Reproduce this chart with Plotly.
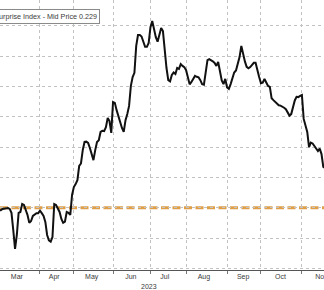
import pandas as pd
import plotly.graph_objects as go

# Bloomberg ECO US Surprise Index, daily (trading days from 2023-03-01)
start_date = "2023-03-01"
holidays = ["2023-04-07", "2023-05-29", "2023-06-19", "2023-07-04", "2023-09-04"]
values = [
    -0.008, -0.008, -0.004, -0.003, -0.001, -0.001, -0.004, -0.017, -0.074, -0.136,
    -0.090, -0.017, -0.014, 0.012, 0.009, -0.008, -0.024, -0.050, -0.044, -0.027,
    -0.021, -0.018, -0.018, -0.010, -0.018, -0.027, -0.047, -0.090, -0.108, -0.112,
    -0.097, 0.012, 0.009, -0.001, -0.014, -0.037, -0.050, -0.046, -0.014, -0.017,
    -0.024, 0.042, 0.068, 0.078, 0.091, 0.138, 0.146, 0.190, 0.217, 0.218,
    0.214, 0.197, 0.174, 0.157, 0.190, 0.217, 0.223, 0.250, 0.254, 0.253,
    0.266, 0.296, 0.286, 0.247, 0.349, 0.346, 0.322, 0.299, 0.279, 0.263,
    0.250, 0.289, 0.309, 0.336, 0.402, 0.431, 0.445, 0.534, 0.570, 0.570,
    0.565, 0.547, 0.531, 0.531, 0.544, 0.596, 0.616, 0.590, 0.563, 0.548,
    0.567, 0.593, 0.583, 0.520, 0.461, 0.421, 0.417, 0.438, 0.446, 0.441,
    0.461, 0.458, 0.474, 0.468, 0.464, 0.454, 0.428, 0.407, 0.415, 0.426,
    0.435, 0.432, 0.430, 0.421, 0.408, 0.406, 0.441, 0.487, 0.490, 0.487,
    0.483, 0.478, 0.468, 0.481, 0.444, 0.420, 0.408, 0.425, 0.397, 0.392,
    0.408, 0.431, 0.446, 0.453, 0.471, 0.497, 0.534, 0.507, 0.483, 0.465,
    0.460, 0.464, 0.471, 0.478, 0.478, 0.451, 0.431, 0.411, 0.413, 0.425,
    0.412, 0.402, 0.399, 0.361, 0.355, 0.349, 0.344, 0.338, 0.337, 0.334,
    0.330, 0.325, 0.316, 0.304, 0.309, 0.336, 0.354, 0.366, 0.365, 0.369,
    0.372, 0.293, 0.270, 0.250, 0.200, 0.215, 0.212, 0.204, 0.199, 0.187,
    0.195, 0.177, 0.135, 0.124,
]
reference_level = 0.0
legend_text = "Bloomberg ECO US Surprise Index - Mid Price 0.229"
year_label = "2023"
month_labels = ["Mar", "Apr", "May", "Jun", "Jul", "Aug", "Sep", "Oct", "Nov"]
month_label_dates = ["2023-03-15", "2023-04-14", "2023-05-15", "2023-06-15", "2023-07-14",
                     "2023-08-15", "2023-09-15", "2023-10-16", "2023-11-16"]

dates = pd.bdate_range(start_date, periods=len(values), freq="C", holidays=holidays)

FONT = "Liberation Sans, Arial, sans-serif"
GRID = "#c2c2c2"
TEXT = "#3a3a3a"

fig = go.Figure()
fig.add_trace(go.Scatter(
    x=dates, y=values, mode="lines",
    line=dict(color="#111111", width=2),
    hoverinfo="skip", showlegend=False,
))

fig.add_shape(
    type="line", xref="paper", yref="y", x0=0, x1=1,
    y0=reference_level, y1=reference_level,
    line=dict(color="#DE9F48", width=3, dash="8px,3.5px"),
    layer="between",
)

fig.add_annotation(
    xref="paper", yref="paper", x=100 / 324, y=1 - 16.5 / 270,
    xanchor="right", yanchor="middle", showarrow=False,
    text=legend_text, font=dict(family=FONT, size=7.2, color=TEXT),
    bordercolor="#8a8a8a", borderwidth=1, borderpad=2, bgcolor="white",
)
fig.add_annotation(
    xref="x", yref="paper", x="2023-06-30", y=-0.062,
    xanchor="center", yanchor="middle", showarrow=False,
    text=year_label, font=dict(family=FONT, size=7, color=TEXT),
)

fig.update_layout(
    template="none",
    width=324, height=290,
    margin=dict(l=0, r=0, t=0, b=20, pad=0),
    paper_bgcolor="white", plot_bgcolor="white",
    showlegend=False,
    xaxis=dict(
        type="date",
        range=["2023-03-01 13:18", "2023-11-17 09:36"],
        rangebreaks=[dict(bounds=["sat", "mon"]), dict(values=holidays)],
        tickmode="array", tickvals=month_label_dates, ticktext=month_labels,
        ticks="", showgrid=False, ticklabeloverflow="allow",
        minor=dict(
            dtick="M1", tick0="2023-03-01",
            showgrid=True, gridcolor=GRID, griddash="dot", gridwidth=1,
            ticks="outside", ticklen=3, tickcolor="#777777", tickwidth=1,
        ),
        showline=True, linecolor="#555555", linewidth=1,
        tickfont=dict(family=FONT, size=7, color=TEXT),
        zeroline=False, automargin=False, fixedrange=True,
    ),
    yaxis=dict(
        range=[-0.2056, 0.6855],
        tick0=0, dtick=0.1,
        showgrid=True, gridcolor=GRID, griddash="dot", gridwidth=1,
        showticklabels=False, ticks="", showline=False,
        zeroline=False, automargin=False, fixedrange=True,
    ),
)

fig.write_html("out.html")
